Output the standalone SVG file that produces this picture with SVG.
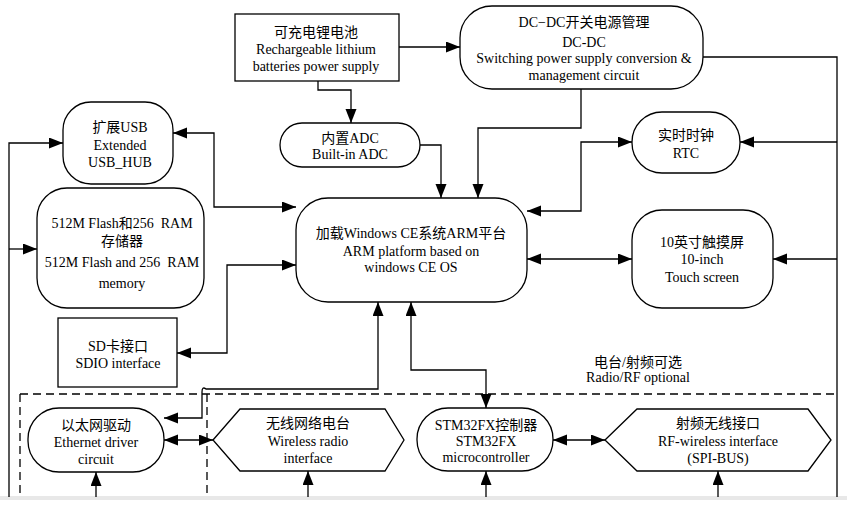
<svg xmlns="http://www.w3.org/2000/svg" width="847" height="508" viewBox="0 0 847 508">
<style>
.n{fill:#fff;stroke:#000;stroke-width:1.3}
.c{fill:none;stroke:#000;stroke-width:1.3}
.d{fill:none;stroke:#000;stroke-width:1.3;stroke-dasharray:8 5}
text{font-family:"Liberation Serif","Noto Sans CJK SC",serif;font-size:14px;text-anchor:middle;fill:#000;white-space:pre}
</style>
<defs>
<marker id="a" markerUnits="userSpaceOnUse" markerWidth="15" markerHeight="12" refX="14" refY="5.5" orient="auto-start-reverse">
<path d="M0,0 L14,5.5 L0,11 z" fill="#000"/>
</marker>
</defs>
<rect x="0" y="0" width="847" height="508" fill="#fff"/>
<rect x="0" y="496" width="847" height="4" fill="#e8e8e8"/>
<g id="region">
<path class="d" d="M20,394 H837 M20,394 V497 M207,394 V497"/>
<text x="638" y="367">电台/射频可选</text>
<text x="638" y="382">Radio/RF optional</text>
</g>
<g id="connectors">
<path class="c" d="M399,47 H460" marker-end="url(#a)"/>
<path class="c" d="M318,81 V90 H351 V123" marker-end="url(#a)"/>
<path class="c" d="M420,145 H441 V198" marker-end="url(#a)"/>
<path class="c" d="M581,89 V128 H478 V198" marker-end="url(#a)"/>
<path class="c" d="M703,57 H837 V497"/>
<path class="c" d="M837,142 H740" marker-end="url(#a)"/>
<path class="c" d="M837,259 H773" marker-end="url(#a)"/>
<path class="c" d="M527,211 H581 V142 H632" marker-start="url(#a)" marker-end="url(#a)"/>
<path class="c" d="M527,259 H632" marker-start="url(#a)" marker-end="url(#a)"/>
<path class="c" d="M173,133 H214 V207 H296" marker-start="url(#a)" marker-end="url(#a)"/>
<path class="c" d="M63,143 H9 V497" marker-start="url(#a)"/>
<path class="c" d="M9,249 H37" marker-end="url(#a)"/>
<path class="c" d="M296,265 H227 V353 H177" marker-start="url(#a)" marker-end="url(#a)"/>
<path class="c" d="M378,302 V389 H206 Q202,386 202,392 V418 H164" marker-start="url(#a)" marker-end="url(#a)"/>
<path class="c" d="M164,440 H213" marker-start="url(#a)" marker-end="url(#a)"/>
<path class="c" d="M411,302 V370 H486 V408" marker-start="url(#a)" marker-end="url(#a)"/>
<path class="c" d="M553,440 H605" marker-start="url(#a)" marker-end="url(#a)"/>
<path class="c" d="M96,497 V472" marker-end="url(#a)"/>
<path class="c" d="M308,497 V471" marker-end="url(#a)"/>
<path class="c" d="M486,497 V471" marker-end="url(#a)"/>
<path class="c" d="M718,497 V471" marker-end="url(#a)"/>
</g>
<g id="battery">
<rect class="n" x="235" y="14" width="164" height="67"/>
<text x="316" y="37">可充电锂电池</text>
<text x="316" y="54">Rechargeable lithium</text>
<text x="316" y="71">batteries power supply</text>
</g>
<g id="dcdc">
<rect class="n" x="460" y="6" width="243" height="83" rx="32" ry="32"/>
<text x="584" y="27">DC−DC开关电源管理</text>
<text x="584" y="47">DC-DC</text>
<text x="584" y="63">Switching power supply conversion &amp;</text>
<text x="584" y="80">management circuit</text>
</g>
<g id="adc">
<rect class="n" x="280" y="123" width="140" height="44" rx="22" ry="22"/>
<text x="350" y="143">内置ADC</text>
<text x="350" y="159">Built-in ADC</text>
</g>
<g id="usbhub">
<rect class="n" x="63" y="102" width="110" height="82" rx="28" ry="28"/>
<text x="120" y="132">扩展USB</text>
<text x="120" y="150">Extended</text>
<text x="120" y="167">USB_HUB</text>
</g>
<g id="rtc">
<rect class="n" x="632" y="112" width="108" height="61" rx="30" ry="30"/>
<text x="686" y="140">实时时钟</text>
<text x="686" y="158">RTC</text>
</g>
<g id="memory">
<rect class="n" x="37" y="188" width="167" height="120" rx="30" ry="30"/>
<text x="122" y="228">512M Flash和256  RAM</text>
<text x="122" y="246">存储器</text>
<text x="122" y="267">512M Flash and 256  RAM</text>
<text x="122" y="288">memory</text>
</g>
<g id="arm">
<rect class="n" x="296" y="198" width="231" height="104" rx="32" ry="32"/>
<text x="411" y="238">加载Windows CE系统ARM平台</text>
<text x="411" y="256">ARM platform based on</text>
<text x="411" y="272">windows CE OS</text>
</g>
<g id="touch">
<rect class="n" x="632" y="210" width="141" height="98" rx="30" ry="30"/>
<text x="702" y="247">10英寸触摸屏</text>
<text x="702" y="264">10-inch</text>
<text x="702" y="282">Touch screen</text>
</g>
<g id="sd">
<rect class="n" x="58" y="318" width="119" height="69"/>
<text x="118" y="351">SD卡接口</text>
<text x="118" y="368">SDIO interface</text>
</g>
<g id="ethernet">
<rect class="n" x="28" y="408" width="136" height="64" rx="31" ry="31"/>
<text x="96" y="430">以太网驱动</text>
<text x="96" y="447">Ethernet driver</text>
<text x="96" y="464">circuit</text>
</g>
<g id="wireless">
<polygon class="n" points="213,440 240,409 385,409 404,440 385,471 240,471"/>
<text x="308" y="428">无线网络电台</text>
<text x="308" y="446">Wireless radio</text>
<text x="308" y="463">interface</text>
</g>
<g id="stm32">
<rect class="n" x="417" y="408" width="136" height="63" rx="31" ry="31"/>
<text x="486" y="430">STM32FX控制器</text>
<text x="486" y="446">STM32FX</text>
<text x="486" y="462">microcontroller</text>
</g>
<g id="rf">
<polygon class="n" points="605,440 637,409 808,409 831,440 808,471 637,471"/>
<text x="718" y="428">射频无线接口</text>
<text x="718" y="446">RF-wireless interface</text>
<text x="718" y="463">(SPI-BUS)</text>
</g>
</svg>
